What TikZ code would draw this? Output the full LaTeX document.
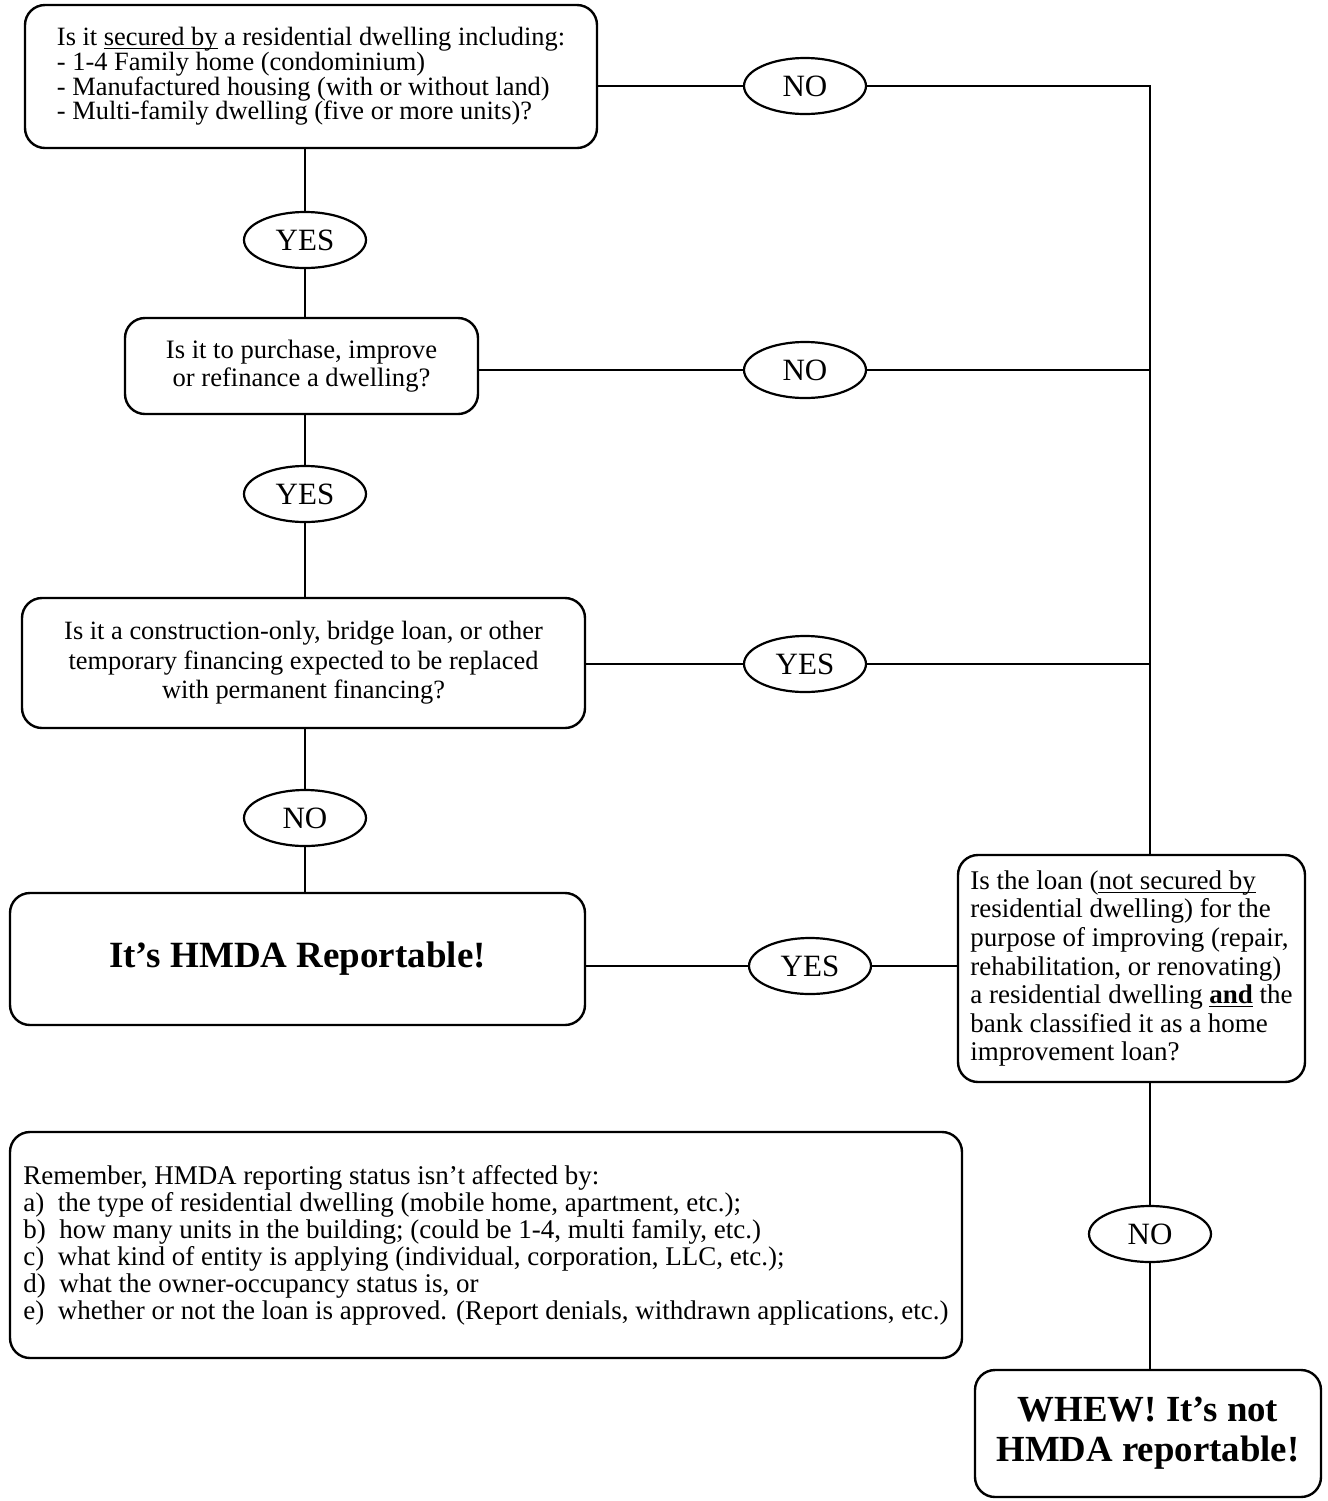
\documentclass[tikz,border=0pt]{standalone}
\usepackage{fontspec}
\setmainfont{Liberation Serif}
\usepackage{tikz}
\usetikzlibrary{shapes.geometric}
\newcommand{\uline}[1]{\underline{\smash{#1}}}

\begin{document}
\begin{tikzpicture}[x=0.5pt, y=-0.5pt,
    box/.style={draw, line width=1.2pt, rounded corners=10pt, inner sep=0pt},
    answer/.style={draw, ellipse, line width=1.1pt, minimum width=61pt, minimum height=28pt, inner sep=0pt, font=\fontsize{15.5}{17}\selectfont},
    link/.style={line width=1pt}]
    \useasboundingbox (0,0) rectangle (1328,1501);

    % Questions
    \node[box, minimum width=286pt, minimum height=71.5pt, align=left, font=\fontsize{13.2}{12.3}\selectfont] (secured) at (311,76.5)
        {Is it \uline{secured by} a residential dwelling including:\\- 1-4 Family home (condominium)\\- Manufactured housing (with or without land)\\- Multi-family dwelling (five or more units)?};
    \node[box, minimum width=176.5pt, minimum height=48pt, align=center, font=\fontsize{13.3}{14}\selectfont] (purpose) at (301.5,366)
        {Is it to purchase, improve\\or refinance a dwelling?};
    \node[box, minimum width=281.5pt, minimum height=65pt, align=center, font=\fontsize{13.2}{14.7}\selectfont] (temporary) at (303.5,663)
        {Is it a construction-only, bridge loan, or other\\temporary financing expected to be replaced\\with permanent financing?};
    \node[box, minimum width=173.5pt, minimum height=113.5pt, align=left, font=\fontsize{13.5}{14.3}\selectfont] (improve) at (1131.5,968.5)
        {Is the loan (\uline{not secured by}\\residential dwelling) for the\\purpose of improving (repair,\\rehabilitation, or renovating)\\a residential dwelling \uline{\textbf{and}} the\\bank classified it as a home\\improvement loan?};

    % Results
    \node[box, minimum width=287.5pt, minimum height=66pt, font=\fontsize{18.5}{20}\selectfont\bfseries] (report) at (297.5,959)
        {It’s HMDA Reportable!};
    \node[box, minimum width=173pt, minimum height=63.5pt, align=center, font=\fontsize{18.4}{20}\selectfont\bfseries] (whew) at (1148,1433.5)
        {WHEW! It’s not\\HMDA reportable!};

    % Note
    \node[box, minimum width=476pt, minimum height=113pt, align=left, font=\fontsize{13.5}{13.5}\selectfont] (note) at (486,1245)
        {Remember, HMDA reporting status isn’t affected by:\\a)\enspace the type of residential dwelling (mobile home, apartment, etc.);\\b)\enspace how many units in the building; (could be 1-4, multi family, etc.)\\c)\enspace what kind of entity is applying (individual, corporation, LLC, etc.);\\d)\enspace what the owner-occupancy status is, or\\e)\enspace whether or not the loan is approved. (Report denials, withdrawn applications, etc.)};

    % Answers
    \node[answer] (yes1) at (305,240) {YES};
    \node[answer] (yes2) at (305,494) {YES};
    \node[answer] (no3) at (305,818) {NO};
    \node[answer] (no1) at (805,86) {NO};
    \node[answer] (no2) at (805,370) {NO};
    \node[answer] (yes3) at (805,664) {YES};
    \node[answer] (yes4) at (810,966) {YES};
    \node[answer] (no4) at (1150,1234) {NO};
    \coordinate (rail) at (1150,86);

    % Left column
    \draw[link] (yes1 |- secured.south) -- (yes1.north);
    \draw[link] (yes1.south) -- (yes1 |- purpose.north);
    \draw[link] (yes2 |- purpose.south) -- (yes2.north);
    \draw[link] (yes2.south) -- (yes2 |- temporary.north);
    \draw[link] (no3 |- temporary.south) -- (no3.north);
    \draw[link] (no3.south) -- (no3 |- report.north);

    % Right rail
    \draw[link] (secured.east |- no1) -- (no1.west);
    \draw[link] (no1.east) -- (rail) -- (rail |- improve.north);
    \draw[link] (purpose.east |- no2) -- (no2.west);
    \draw[link] (no2.east) -- (no2 -| rail);
    \draw[link] (temporary.east |- yes3) -- (yes3.west);
    \draw[link] (yes3.east) -- (yes3 -| rail);
    \draw[link] (report.east |- yes4) -- (yes4.west);
    \draw[link] (yes4.east) -- (yes4 -| improve.west);
    \draw[link] (no4 |- improve.south) -- (no4.north);
    \draw[link] (no4.south) -- (no4 |- whew.north);
\end{tikzpicture}
\end{document}
